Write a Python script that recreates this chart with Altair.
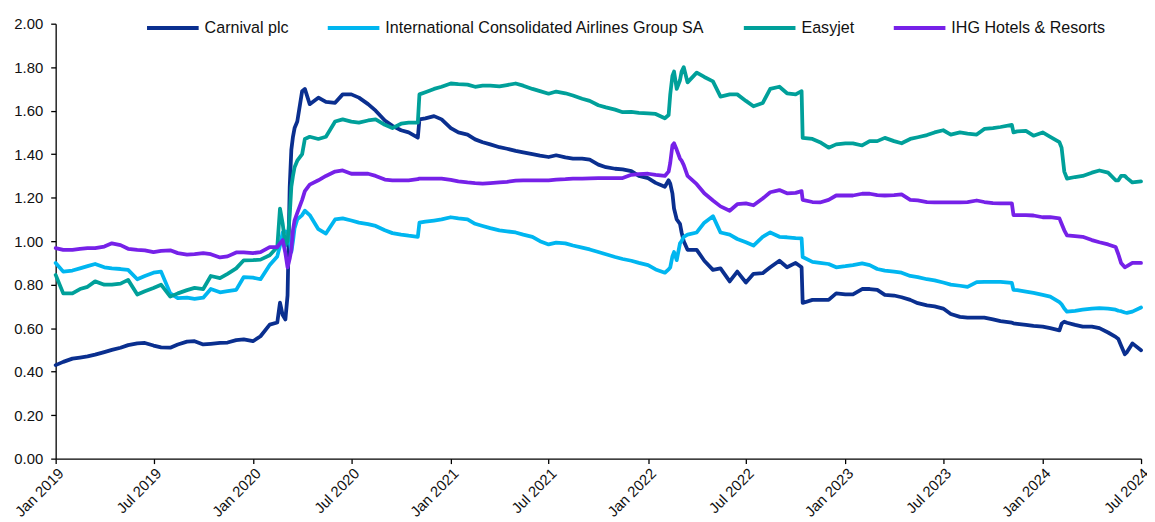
import altair as alt
import pandas as pd

series_names = ["Carnival plc", "International Consolidated Airlines Group SA", "Easyjet", "IHG Hotels & Resorts"]
series_colors = ["#0a2f8f", "#00b6f0", "#00a09a", "#7621e8"]

dates = [
    # 2019
    "2019-01-01", "2019-01-15", "2019-02-01", "2019-02-15", "2019-03-01", "2019-03-15",
    "2019-04-01", "2019-04-15", "2019-05-01", "2019-05-15", "2019-06-01", "2019-06-15",
    "2019-07-01", "2019-07-15", "2019-08-01", "2019-08-15", "2019-09-01", "2019-09-15",
    "2019-10-01", "2019-10-15", "2019-11-01", "2019-11-15", "2019-12-01", "2019-12-15",
    # 2020
    "2020-01-01", "2020-01-15", "2020-02-01", "2020-02-15", "2020-02-20", "2020-02-25",
    "2020-03-01", "2020-03-05", "2020-03-09", "2020-03-12", "2020-03-15", "2020-03-18",
    "2020-03-23", "2020-04-01", "2020-04-06", "2020-04-15", "2020-05-01", "2020-05-15",
    "2020-06-01", "2020-06-15", "2020-07-01", "2020-07-15", "2020-08-01", "2020-08-15",
    "2020-09-01", "2020-09-15", "2020-10-01", "2020-10-15", "2020-11-01", "2020-11-04",
    "2020-11-15", "2020-12-01", "2020-12-15",
    # 2021
    "2021-01-01", "2021-01-15", "2021-02-01", "2021-02-15", "2021-03-01", "2021-03-15",
    "2021-04-01", "2021-04-15", "2021-05-01", "2021-05-15", "2021-06-01", "2021-06-15",
    "2021-07-01", "2021-07-15", "2021-08-01", "2021-08-15", "2021-09-01", "2021-09-15",
    "2021-10-01", "2021-10-15", "2021-11-01", "2021-11-15", "2021-12-01", "2021-12-15",
    # 2022
    "2022-01-01", "2022-01-15", "2022-02-01", "2022-02-08", "2022-02-11", "2022-02-15",
    "2022-02-18", "2022-02-23", "2022-03-01", "2022-03-04", "2022-03-08", "2022-03-15",
    "2022-04-01", "2022-04-15", "2022-05-01", "2022-05-15", "2022-06-01", "2022-06-15",
    "2022-07-01", "2022-07-15", "2022-08-01", "2022-08-15", "2022-09-01", "2022-09-15",
    "2022-10-01", "2022-10-12", "2022-10-14", "2022-11-01", "2022-11-15", "2022-12-01",
    "2022-12-15",
    # 2023
    "2023-01-01", "2023-01-15", "2023-02-01", "2023-02-15", "2023-03-01", "2023-03-15",
    "2023-04-01", "2023-04-15", "2023-05-01", "2023-05-15", "2023-06-01", "2023-06-15",
    "2023-07-01", "2023-07-15", "2023-08-01", "2023-08-15", "2023-09-01", "2023-09-15",
    "2023-10-01", "2023-10-15", "2023-11-05", "2023-11-08", "2023-11-15", "2023-12-01",
    "2023-12-15",
    # 2024
    "2024-01-01", "2024-01-15", "2024-02-01", "2024-02-05", "2024-02-10", "2024-02-15",
    "2024-03-01", "2024-03-15", "2024-04-01", "2024-04-15", "2024-05-01", "2024-05-15",
    "2024-05-20", "2024-05-25", "2024-06-01", "2024-06-05", "2024-06-15", "2024-07-01",
]

carnival = [
    0.43, 0.445, 0.46, 0.465, 0.47, 0.478, 0.49, 0.50, 0.51, 0.522, 0.53, 0.532,
    0.52, 0.512, 0.51, 0.525, 0.538, 0.54, 0.525, 0.528, 0.532, 0.534, 0.545, 0.548,
    0.54, 0.563, 0.616, 0.626, 0.717, 0.66, 0.64, 0.75, 1.25, 1.42, 1.48, 1.52,
    1.55, 1.69, 1.70, 1.63, 1.66, 1.64, 1.636, 1.675, 1.675, 1.66, 1.63, 1.60,
    1.555, 1.53, 1.51, 1.50, 1.476, 1.56, 1.565, 1.575, 1.56,
    1.52, 1.50, 1.49, 1.468, 1.455, 1.445, 1.432, 1.425, 1.415, 1.408, 1.40, 1.393,
    1.387, 1.395, 1.385, 1.38, 1.38, 1.375, 1.352, 1.34, 1.333, 1.33, 1.322, 1.30,
    1.29, 1.268, 1.25, 1.28, 1.265, 1.22, 1.15, 1.10, 1.08, 1.04, 1.00, 0.96,
    0.96, 0.91, 0.868, 0.875, 0.815, 0.86, 0.81, 0.85, 0.853, 0.88, 0.91, 0.88,
    0.90, 0.88, 0.716, 0.73, 0.73, 0.73, 0.76,
    0.755, 0.755, 0.78, 0.78, 0.776, 0.753, 0.75, 0.742, 0.73, 0.715, 0.705, 0.70,
    0.69, 0.665, 0.652, 0.648, 0.648, 0.648, 0.64, 0.632, 0.625, 0.622, 0.62, 0.615,
    0.61,
    0.607, 0.60, 0.59, 0.62, 0.63, 0.625, 0.615, 0.607, 0.607, 0.60, 0.58, 0.56,
    0.55, 0.52, 0.48, 0.49, 0.53, 0.498,
]

iag = [
    0.90, 0.86, 0.865, 0.875, 0.885, 0.895, 0.88, 0.875, 0.872, 0.868, 0.825, 0.84,
    0.855, 0.86, 0.76, 0.738, 0.74, 0.735, 0.74, 0.78, 0.765, 0.77, 0.776, 0.835,
    0.832, 0.825, 0.89, 0.93, 0.98, 1.04, 1.045, 1.04, 1.00, 0.95, 1.00, 1.06,
    1.10, 1.12, 1.14, 1.12, 1.055, 1.035, 1.10, 1.105, 1.095, 1.085, 1.078, 1.07,
    1.05, 1.037, 1.03, 1.025, 1.02, 1.085, 1.09, 1.095, 1.10,
    1.11, 1.105, 1.10, 1.08, 1.07, 1.06, 1.05, 1.045, 1.04, 1.03, 1.02, 1.00,
    0.985, 0.993, 0.99, 0.98, 0.97, 0.962, 0.95, 0.94, 0.927, 0.918, 0.91, 0.90,
    0.89, 0.87, 0.855, 0.87, 0.88, 0.93, 0.95, 0.913, 0.99, 1.00, 1.02, 1.03,
    1.04, 1.085, 1.115, 1.04, 1.03, 1.01, 0.995, 0.98, 1.02, 1.04, 1.02, 1.018,
    1.014, 1.013, 0.927, 0.905, 0.90, 0.895, 0.88,
    0.885, 0.89, 0.898, 0.89, 0.872, 0.865, 0.86, 0.855, 0.84, 0.835, 0.825, 0.82,
    0.81, 0.80, 0.795, 0.79, 0.812, 0.813, 0.813, 0.813, 0.808, 0.776, 0.775, 0.768,
    0.762,
    0.753, 0.745, 0.72, 0.71, 0.69, 0.676, 0.68, 0.685, 0.69, 0.692, 0.69, 0.685,
    0.68, 0.678, 0.672, 0.67, 0.676, 0.695,
]

easyjet = [
    0.845, 0.76, 0.76, 0.78, 0.79, 0.815, 0.80, 0.80, 0.805, 0.822, 0.755, 0.77,
    0.785, 0.80, 0.745, 0.76, 0.775, 0.785, 0.78, 0.84, 0.83, 0.85, 0.875, 0.912,
    0.913, 0.915, 0.935, 0.973, 1.15, 1.08, 0.98, 1.00, 1.12, 1.25, 1.30, 1.34,
    1.37, 1.40, 1.47, 1.48, 1.47, 1.48, 1.55, 1.56, 1.55, 1.545, 1.555, 1.56,
    1.535, 1.52, 1.54, 1.545, 1.545, 1.675, 1.685, 1.70, 1.71,
    1.725, 1.722, 1.72, 1.71, 1.715, 1.715, 1.712, 1.718, 1.725, 1.715, 1.70, 1.69,
    1.678, 1.688, 1.68, 1.67, 1.655, 1.645, 1.625, 1.615, 1.605, 1.593, 1.594, 1.59,
    1.588, 1.585, 1.565, 1.58, 1.675, 1.76, 1.78, 1.70, 1.74, 1.78, 1.80, 1.73,
    1.775, 1.755, 1.735, 1.665, 1.675, 1.675, 1.645, 1.62, 1.635, 1.70, 1.71, 1.68,
    1.675, 1.69, 1.475, 1.47, 1.455, 1.43, 1.445,
    1.45, 1.45, 1.44, 1.46, 1.46, 1.475, 1.46, 1.45, 1.47, 1.478, 1.488, 1.50,
    1.51, 1.49, 1.50, 1.495, 1.49, 1.516, 1.52, 1.525, 1.535, 1.50, 1.505, 1.507,
    1.485,
    1.50, 1.48, 1.455, 1.43, 1.32, 1.288, 1.295, 1.30, 1.315, 1.325, 1.315, 1.28,
    1.28, 1.30, 1.30, 1.29, 1.27, 1.275,
]

ihg = [
    0.968, 0.96, 0.96, 0.965, 0.968, 0.968, 0.975, 0.99, 0.982, 0.965, 0.96, 0.958,
    0.95, 0.955, 0.958, 0.945, 0.938, 0.94, 0.945, 0.94, 0.925, 0.93, 0.948, 0.948,
    0.945, 0.95, 0.973, 0.973, 0.99, 1.005, 0.945, 0.88, 0.92, 0.96, 1.05, 1.096,
    1.13, 1.19, 1.23, 1.26, 1.28, 1.30, 1.32, 1.325, 1.31, 1.31, 1.31, 1.30,
    1.283, 1.28, 1.28, 1.28, 1.285, 1.288, 1.288, 1.288, 1.288,
    1.282, 1.275, 1.27, 1.267, 1.265, 1.267, 1.27, 1.273, 1.278, 1.28, 1.28, 1.28,
    1.28, 1.283, 1.285, 1.288, 1.288, 1.289, 1.29, 1.29, 1.29, 1.29, 1.305, 1.308,
    1.31, 1.305, 1.30, 1.32, 1.36, 1.44, 1.45, 1.42, 1.38, 1.37, 1.35, 1.30,
    1.262, 1.22, 1.187, 1.16, 1.14, 1.17, 1.174, 1.165, 1.196, 1.225, 1.235, 1.22,
    1.222, 1.23, 1.19, 1.18, 1.178, 1.19, 1.21,
    1.21, 1.21, 1.218, 1.218, 1.212, 1.21, 1.212, 1.215, 1.19, 1.188, 1.18, 1.178,
    1.178, 1.178, 1.178, 1.18, 1.187, 1.18, 1.175, 1.174, 1.174, 1.12, 1.12, 1.12,
    1.118,
    1.11, 1.11, 1.105, 1.08, 1.05, 1.027, 1.023, 1.02, 1.005, 0.995, 0.985, 0.973,
    0.94, 0.90, 0.88, 0.885, 0.90, 0.90,
]

y_ticks = [0.0, 0.2, 0.4, 0.6, 0.8, 1.0, 1.2, 1.4, 1.6, 1.8, 2.0]
x_tick_years = [2019, 2020, 2021, 2022, 2023, 2024]
x_tick_months = [1, 7]

all_series = [carnival, iag, easyjet, ihg]
for s in all_series:
    assert len(s) == len(dates), (len(s), len(dates))

rows = []
for idx, (name, vals) in enumerate(zip(series_names, all_series)):
    for d, v in zip(dates, vals):
        rows.append({"date": d, "value": v, "series": name, "k": idx})
df = pd.DataFrame(rows)
df["date"] = pd.to_datetime(df["date"])

tick_values = [alt.DateTime(year=y, month=m, date=1) for y in x_tick_years for m in x_tick_months]

FONT = "Liberation Sans"

chart = alt.Chart(df).mark_line(strokeWidth=3.8, strokeJoin="round", strokeCap="round").encode(
    x=alt.X(
        "date:T",
        scale=alt.Scale(domain=[alt.DateTime(year=2019, month=1, date=1),
                                alt.DateTime(year=2024, month=7, date=1)]),
        axis=alt.Axis(values=tick_values, format="%b %Y", labelAngle=-45, title=None,
                      grid=False, labelFlush=False, labelOverlap=False,
                      tickSize=5, labelPadding=2, labelFontSize=15),
    ),
    y=alt.Y(
        "value:Q",
        scale=alt.Scale(domain=[0, 2], nice=False),
        axis=alt.Axis(values=y_ticks, format=".2f", title=None, grid=False,
                      tickSize=5, labelPadding=8, labelFlush=False, labelFontSize=15),
    ),
    color=alt.Color(
        "series:N",
        scale=alt.Scale(domain=series_names, range=series_colors),
        legend=alt.Legend(title=None, orient="none", legendX=90, legendY=-24,
                          direction="horizontal", symbolType="stroke",
                          symbolSize=2704, symbolStrokeWidth=4,
                          labelFontSize=16.2, labelFont=FONT, labelColor="#111111",
                          columnPadding=31, labelOffset=4, labelLimit=0),
    ),
    detail="k:O",
).properties(
    width=1093,
    height=438,
    autosize=alt.AutoSizeParams(type="none"),
    padding={"left": 48, "top": 14, "right": 6, "bottom": 62},
).configure_axis(
    labelFont=FONT, labelColor="#111111",
    domainColor="#000000", tickColor="#000000", domainWidth=1.3, tickWidth=1.3,
).configure_view(stroke=None)

chart.save("out.html", embed_options={"renderer": "svg", "actions": False})
